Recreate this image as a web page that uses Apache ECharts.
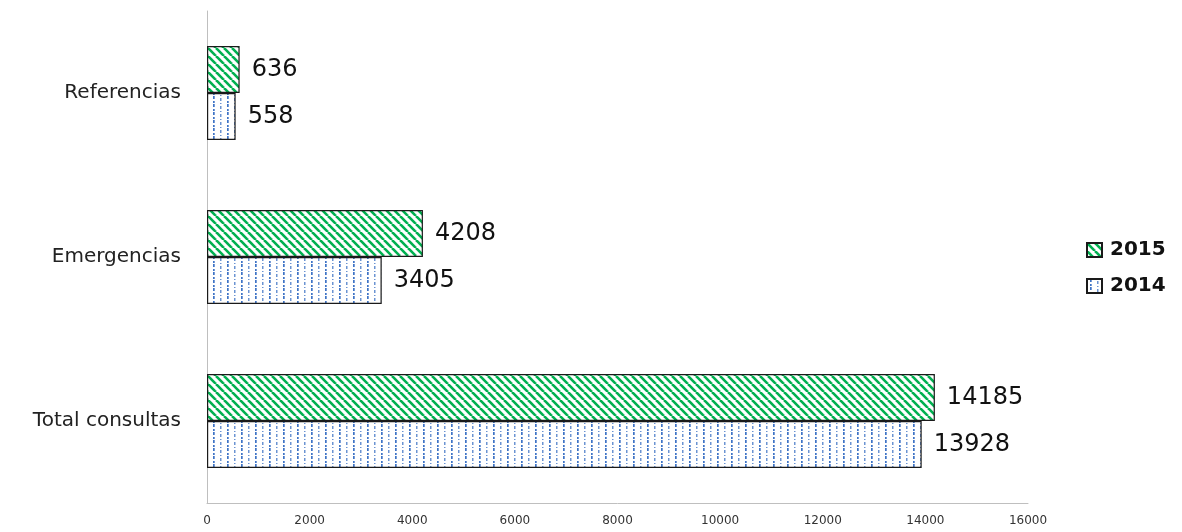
<!DOCTYPE html>
<html><head><meta charset="utf-8">
<script src="https://cdn.jsdelivr.net/npm/echarts@6/dist/echarts.min.js"></script>
<style>html,body{margin:0;padding:0;background:#fff}#c{width:1182px;height:532px}</style>
</head><body><div id="c"></div>
<script>
const categories = ['Total consultas', 'Emergencias', 'Referencias'];
const values2014 = [13928, 3405, 558];
const values2015 = [14185, 4208, 636];
const xTicks = [0, 2000, 4000, 6000, 8000, 10000, 12000, 14000, 16000];

function greenPattern() {
  const c = document.createElement('canvas'); c.width = 8; c.height = 8;
  const g = c.getContext('2d');
  g.fillStyle = '#fff'; g.fillRect(0, 0, 8, 8);
  g.strokeStyle = '#00b050'; g.lineWidth = 2.6;
  for (const o of [-8, 0, 8]) { g.beginPath(); g.moveTo(o, 0); g.lineTo(o + 8, 8); g.stroke(); }
  return c;
}
function bluePattern() {
  const c = document.createElement('canvas'); c.width = 14; c.height = 8;
  const g = c.getContext('2d');
  g.fillStyle = '#fff'; g.fillRect(0, 0, 14, 8);
  g.fillStyle = '#3f74c6';
  g.fillRect(3, 0, 1.7, 3);
  g.fillRect(3, 5, 1.7, 2);
  g.fillStyle = '#6b93d2';
  g.fillRect(10, 2, 1.5, 3);
  g.fillRect(10, 7, 1.5, 1);
  return c;
}
const font = 'DejaVu Sans';
const chart = echarts.init(document.getElementById('c'));
chart.setOption({
  animation: false,
  grid: { left: 207, right: 154, top: 11, bottom: 29 },
  legend: {
    data: [{ name: '2015', icon: 'rect' }, { name: '2014', icon: 'rect' }],
    orient: 'vertical', left: 1081, top: 235,
    itemWidth: 15, itemHeight: 14, itemGap: 16,
    textStyle: { fontSize: 20, fontWeight: 'bold', color: '#111', fontFamily: font, padding: [0, 0, 0, 3] }
  },
  xAxis: {
    type: 'value', min: 0, max: 16000, interval: 2000,
    axisLine: { show: true, lineStyle: { color: '#bfbfbf' } },
    axisTick: { show: false }, splitLine: { show: false },
    axisLabel: { fontSize: 12, color: '#333', margin: 12, fontFamily: font,
      formatter: v => xTicks.includes(v) ? String(v) : '' }
  },
  yAxis: {
    type: 'category', data: categories,
    axisLine: { show: true, lineStyle: { color: '#bfbfbf' } },
    axisTick: { show: false },
    axisLabel: { fontSize: 20, color: '#222', margin: 26, fontFamily: font }
  },
  series: [
    { name: '2015', type: 'bar', data: values2015, barWidth: 47, barGap: '0%',
      itemStyle: { color: { image: greenPattern(), repeat: 'repeat' }, borderColor: '#1a1a1a', borderWidth: 1.2 },
      label: { show: true, position: 'right', fontSize: 24, color: '#111', distance: 12, fontFamily: font } },
    { name: '2014', type: 'bar', data: values2014, barWidth: 47, barGap: '0%',
      itemStyle: { color: { image: bluePattern(), repeat: 'repeat' }, borderColor: '#1a1a1a', borderWidth: 1.2 },
      label: { show: true, position: 'right', fontSize: 24, color: '#111', distance: 12, fontFamily: font } }
  ]
});
</script></body></html>
